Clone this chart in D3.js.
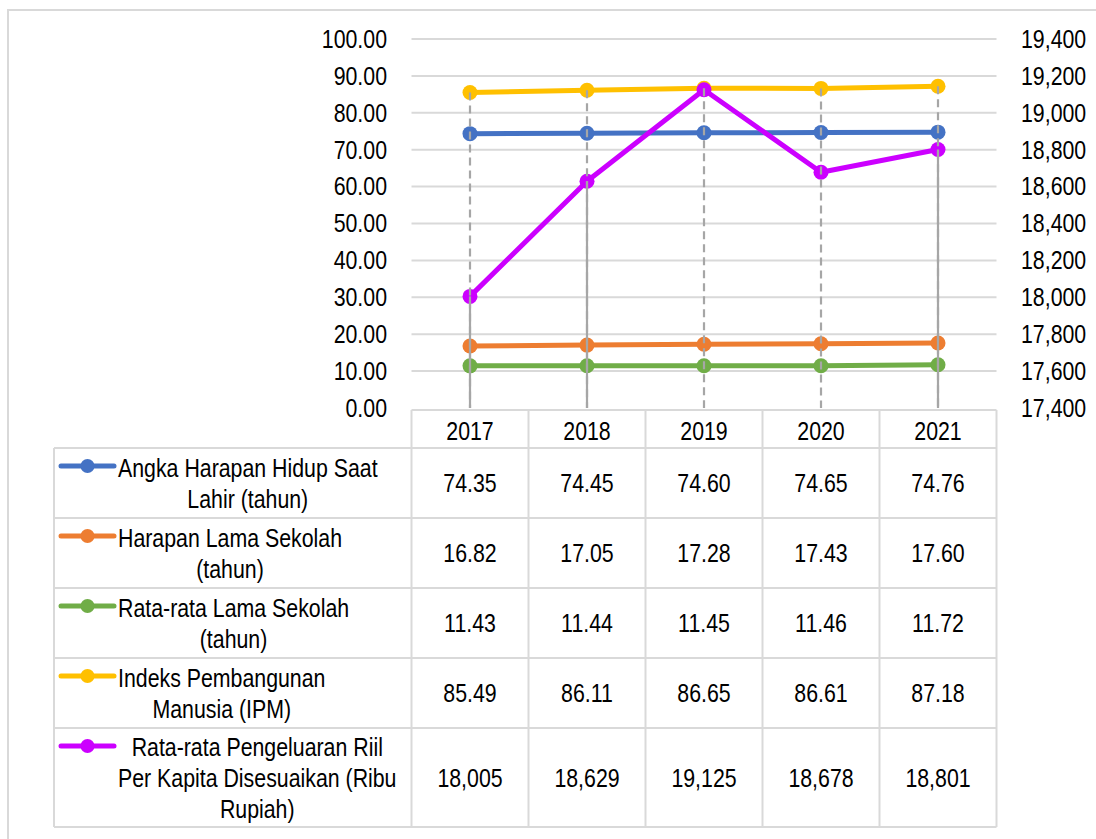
<!DOCTYPE html>
<html>
<head>
<meta charset="utf-8">
<script src="https://cdn.jsdelivr.net/npm/d3@7"></script>
<style>
  body { margin: 0; background: #fff; }
  text { font-family: "Liberation Sans Narrow", "Arial Narrow", "Liberation Sans", Arial, sans-serif; fill: #000; }
</style>
</head>
<body>
<svg id="chart" width="1096" height="839"></svg>
<script>
// data
const years = ["2017", "2018", "2019", "2020", "2021"];
const ahh = [74.35, 74.45, 74.60, 74.65, 74.76];
const hls = [16.82, 17.05, 17.28, 17.43, 17.60];
const rls = [11.43, 11.44, 11.45, 11.46, 11.72];
const ipm = [85.49, 86.11, 86.65, 86.61, 87.18];
const pengeluaran = [18005, 18629, 19125, 18678, 18801];
const leftTicks = [0, 10, 20, 30, 40, 50, 60, 70, 80, 90, 100];
const rightTicks = [17400, 17600, 17800, 18000, 18200, 18400, 18600, 18800, 19000, 19200, 19400];
// years where the solid (secondary) drop line shows
const solidDropYears = ["2017", "2018", "2021"];

const series = [
    { name: ["Angka Harapan Hidup Saat", "Lahir (tahun)"], values: ahh, color: "#4472C4", axis: "left" },
    { name: ["Harapan Lama Sekolah", "(tahun)"], values: hls, color: "#ED7D31", axis: "left" },
    { name: ["Rata-rata Lama Sekolah", "(tahun)"], values: rls, color: "#70AD47", axis: "left" },
    { name: ["Indeks Pembangunan", "Manusia (IPM)"], values: ipm, color: "#FFC000", axis: "left" },
    { name: ["Rata-rata Pengeluaran Riil", "Per Kapita Disesuaikan (Ribu", "Rupiah)"], values: pengeluaran, color: "#CC00FF", axis: "right" }
];

const svg = d3.select("#chart");
const FS = 26;
const grey = "#D9D9D9";

// no narrow font here, so squeeze the regular one
let narrow = 1;
{
    const probe = svg.append("text").attr("font-size", 100).text("0000000000");
    const w = probe.node().getComputedTextLength();
    probe.remove();
    if (w > 500) narrow = 0.82;
}
function condense(sel) {
    if (narrow === 1) return;
    sel.each(function () {
        const w = this.getComputedTextLength();
        d3.select(this).attr("textLength", w * narrow).attr("lengthAdjust", "spacingAndGlyphs");
    });
}

// outer chart border
svg.append("rect")
    .attr("x", 8).attr("y", 10).attr("width", 1100).attr("height", 850)
    .attr("fill", "none").attr("stroke", grey).attr("stroke-width", 2);

const x = d3.scaleBand().domain(years).range([411.5, 996.5]);
const yL = d3.scaleLinear().domain([0, 100]).range([408, 39]);
const yR = d3.scaleLinear().domain([17400, 19400]).range([408, 39]);
const cx = d => x(d) + x.bandwidth() / 2;

// gridlines
svg.append("g").selectAll("line")
    .data(leftTicks.slice(1))
    .join("line")
    .attr("x1", x.range()[0]).attr("x2", x.range()[1])
    .attr("y1", d => yL(d)).attr("y2", d => yL(d))
    .attr("stroke", grey).attr("stroke-width", 2);

// axes
const axL = svg.append("g").attr("transform", "translate(411,0)")
    .call(d3.axisLeft(yL).tickValues(leftTicks).tickFormat(d3.format(".2f")).tickSize(0).tickPadding(24));
const axR = svg.append("g").attr("transform", "translate(996,0)")
    .call(d3.axisRight(yR).tickValues(rightTicks).tickFormat(d3.format(",")).tickSize(0).tickPadding(25));
[axL, axR].forEach(a => {
    a.select(".domain").remove();
    a.selectAll("text").attr("font-size", FS).attr("font-family", null).attr("fill", "#000");
    condense(a.selectAll("text"));
});

// series lines + markers
series.forEach(s => {
    const y = s.axis === "left" ? yL : yR;
    const line = d3.line().x((d, i) => cx(years[i])).y(d => y(d));
    svg.append("path")
        .datum(s.values)
        .attr("d", line)
        .attr("fill", "none")
        .attr("stroke", s.color)
        .attr("stroke-width", 5)
        .attr("stroke-linejoin", "round");
    svg.append("g").selectAll("circle")
        .data(s.values)
        .join("circle")
        .attr("cx", (d, i) => cx(years[i]))
        .attr("cy", d => y(d))
        .attr("r", 7.5)
        .attr("fill", s.color);
});

// drop lines
const dropG = svg.append("g").attr("stroke", "#A6A6A6").attr("stroke-width", 2.2);
dropG.selectAll("line.solid")
    .data(years.filter(yr => solidDropYears.includes(yr)))
    .join("line")
    .attr("class", "solid")
    .attr("x1", d => cx(d)).attr("x2", d => cx(d))
    .attr("y1", d => yR(pengeluaran[years.indexOf(d)]))
    .attr("y2", yL(0));
dropG.selectAll("line.dash")
    .data(years)
    .join("line")
    .attr("class", "dash")
    .attr("x1", d => cx(d)).attr("x2", d => cx(d))
    .attr("y1", (d, i) => yL(d3.max([ahh[i], hls[i], rls[i], ipm[i]])))
    .attr("y2", yL(0))
    .attr("stroke-dasharray", "8,5");

// data table
const headerTop = 410, headerBot = 448;
const rowH = [70, 70, 70, 70, 99];
const rowTops = [headerBot];
rowH.forEach((h, i) => rowTops.push(rowTops[i] + h));
const tableLeft = 54, tableRight = 996.5;

const tg = svg.append("g");
function hline(x1, x2, yy) {
    tg.append("line").attr("x1", x1).attr("x2", x2).attr("y1", yy).attr("y2", yy)
        .attr("stroke", grey).attr("stroke-width", 2);
}
function vline(xx, y1, y2) {
    tg.append("line").attr("x1", xx).attr("x2", xx).attr("y1", y1).attr("y2", y2)
        .attr("stroke", grey).attr("stroke-width", 2);
}
hline(x.range()[0], tableRight, headerTop);
rowTops.forEach(t => hline(tableLeft, tableRight, t));
vline(tableLeft, headerBot, rowTops[rowTops.length - 1]);
years.forEach(yr => vline(x(yr), headerTop, rowTops[rowTops.length - 1]));
vline(tableRight, headerTop, rowTops[rowTops.length - 1]);

// header years
const yrText = tg.selectAll("text.yr")
    .data(years)
    .join("text")
    .attr("x", d => cx(d))
    .attr("y", (headerTop + headerBot) / 2 + 2)
    .attr("dy", "0.35em")
    .attr("text-anchor", "middle")
    .attr("font-size", FS)
    .text(d => d);
condense(yrText);

const fmtL = d3.format(".2f"), fmtR = d3.format(",");
series.forEach((s, r) => {
    const top = rowTops[r], mid = top + rowH[r] / 2;
    const fmt = s.axis === "left" ? fmtL : fmtR;
    // legend key
    tg.append("line").attr("x1", 61).attr("x2", 114).attr("y1", top + 18).attr("y2", top + 18)
        .attr("stroke", s.color).attr("stroke-width", 5).attr("stroke-linecap", "round");
    tg.append("circle").attr("cx", 87.5).attr("cy", top + 18).attr("r", 7).attr("fill", s.color);
    // label, centred block starting after the key
    const lines = tg.append("g").selectAll("text")
        .data(s.name)
        .join("text")
        .attr("y", (d, i) => mid + (i - (s.name.length - 1) / 2) * 31)
        .attr("dy", "0.35em")
        .attr("text-anchor", "middle")
        .attr("font-size", FS)
        .text(d => d);
    let maxW = 0;
    lines.each(function () { maxW = Math.max(maxW, this.getComputedTextLength()); });
    condense(lines);
    lines.attr("x", 118 + maxW * narrow / 2);
    // values
    const vals = tg.append("g").selectAll("text")
        .data(s.values)
        .join("text")
        .attr("x", (d, i) => cx(years[i]))
        .attr("y", mid)
        .attr("dy", "0.35em")
        .attr("text-anchor", "middle")
        .attr("font-size", FS)
        .text(d => fmt(d));
    condense(vals);
});
</script>
</body>
</html>
